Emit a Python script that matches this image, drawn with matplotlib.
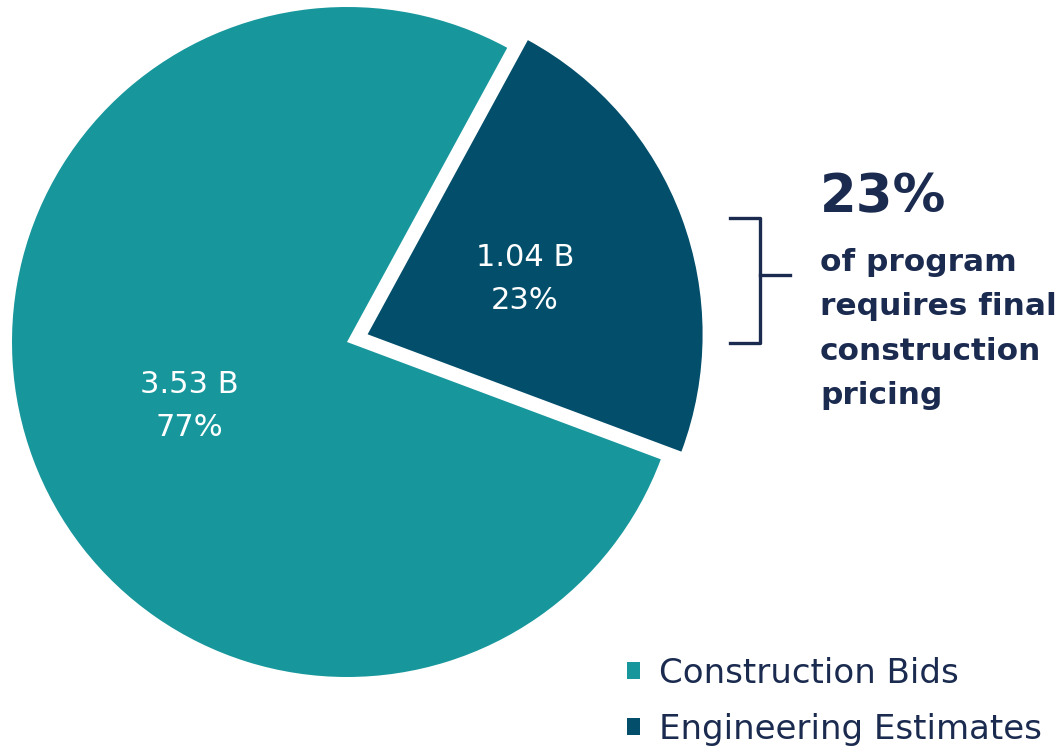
import matplotlib.pyplot as plt
from matplotlib.lines import Line2D

labels = ["Construction Bids", "Engineering Estimates"]
values = [3.53, 1.04]
shares = [77, 23]
colours = ["#17979c", "#034f6b"]
navy = "#1b2b50"

W, H = 1058, 748
fig = plt.figure(figsize=(W / 100, H / 100), dpi=100)
ax = fig.add_axes([0, 0, 1, 1])

cx, cy, r = 347, H - 342, 335
# explode is in data units here (axes are in pixels)
wedges, _ = ax.pie(values, colors=colours, startangle=-20.5, counterclock=False,
                   explode=[0, 22], center=(cx, cy), radius=r,
                   wedgeprops=dict(linewidth=0), frame=True)
ax.set_xlim(0, W)
ax.set_ylim(0, H)
ax.set_aspect("equal")
ax.axis("off")

# slice labels
label_pos = [(189, H - 406), (525, H - 279)]
for (x, y), v, s in zip(label_pos, values, shares):
    ax.text(x, y, f"{v:.2f} B\n{s}%", ha="center", va="center", color="white",
            fontsize=22, family="DejaVu Sans", linespacing=1.65)

# bracket
bx = 760
ax.add_line(Line2D([730, bx, bx, 730], [H - 218, H - 218, H - 343, H - 343],
                   color=navy, lw=2.4))
ax.add_line(Line2D([bx, 790], [H - 275, H - 275], color=navy, lw=2.4))

ax.text(820, H - 197, "23%", ha="left", va="center", color=navy,
        fontsize=38, family="DejaVu Sans", fontweight="bold")
ax.text(820, H - 329, "of program\nrequires final\nconstruction\npricing",
        ha="left", va="center", color=navy, fontsize=22.5, family="DejaVu Sans",
        fontweight="bold", linespacing=1.68)

leg = ax.legend(wedges, labels, loc="upper left",
                bbox_to_anchor=(613 / W, 1 - 643 / H),
                frameon=False, handlelength=0.4, handleheight=0.4,
                handletextpad=0.55, labelspacing=0.68, borderaxespad=0,
                prop=dict(family="DejaVu Sans", size=24.5))
for t in leg.get_texts():
    t.set_color(navy)

fig.savefig("out.png", dpi=100)
